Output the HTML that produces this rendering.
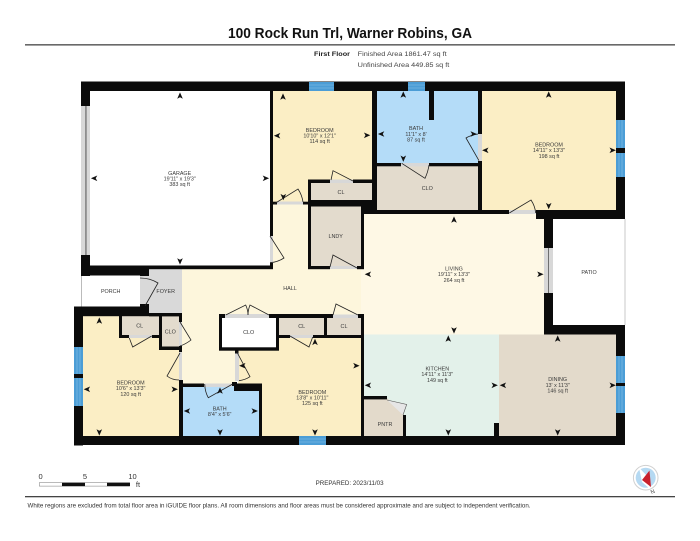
<!DOCTYPE html>
<html><head><meta charset="utf-8">
<style>
html,body{margin:0;padding:0;background:#fff}
svg{display:block}
text{font-family:"Liberation Sans",Arial,sans-serif}
.l text,.l{font-size:5.4px;fill:#3a3a3a;text-anchor:middle}
.d{fill:none;stroke:#222;stroke-width:.8}
</style></head><body>
<svg width="700" height="541" viewBox="0 0 700 541" xmlns="http://www.w3.org/2000/svg">
<defs><polygon id="a" points="0,-3.6 2.8,2.8 0,1.2 -2.8,2.8" fill="#111"/></defs>
<rect width="700" height="541" fill="#fff"/>

<!-- header -->
<text x="350" y="38" font-size="14.6" font-weight="bold" text-anchor="middle" fill="#111" textLength="244" lengthAdjust="spacingAndGlyphs">100 Rock Run Trl, Warner Robins, GA</text>
<rect x="25" y="44.2" width="650" height="1.3" fill="#444"/>
<text x="314" y="56" font-size="6.6" font-weight="bold" fill="#222" textLength="36" lengthAdjust="spacingAndGlyphs">First Floor</text>
<text x="357.7" y="56" font-size="6.6" fill="#444" textLength="89" lengthAdjust="spacingAndGlyphs">Finished Area 1861.47 sq ft</text>
<text x="357.7" y="67" font-size="6.6" fill="#444" textLength="91.6" lengthAdjust="spacingAndGlyphs">Unfinished Area 449.85 sq ft</text>

<!-- room fills -->
<g>
<rect x="182" y="269" width="182" height="46" fill="#fdf6dc"/>
<rect x="182" y="315" width="54" height="70" fill="#fdf6dc"/>
<rect x="273" y="202" width="36" height="68" fill="#fdf6dc"/>
<rect x="361" y="214" width="184" height="121" fill="#fef8e5"/>
<rect x="273" y="91" width="100" height="90" fill="#fbeec5"/>
<rect x="273" y="180" width="36" height="23" fill="#fbeec5"/>
<rect x="377" y="91" width="102" height="73" fill="#b4dcf8"/>
<rect x="478" y="91" width="139" height="120" fill="#fbeec5"/>
<rect x="376" y="165" width="103" height="46" fill="#e3dbcd"/>
<rect x="310" y="182" width="63" height="20" fill="#e3dbcd"/>
<rect x="310" y="206" width="52" height="61" fill="#e3dbcd"/>
<rect x="83" y="316" width="97" height="121" fill="#fbeec5"/>
<rect x="121" y="316" width="39" height="20" fill="#e3dbcd"/>
<rect x="161" y="316" width="19" height="31" fill="#e3dbcd"/>
<rect x="238" y="350" width="124" height="87" fill="#fbeec5"/>
<rect x="278" y="337" width="84" height="14" fill="#fbeec5"/>
<rect x="183" y="386" width="77" height="51" fill="#b4dcf8"/>
<rect x="278" y="317" width="47" height="19" fill="#e3dbcd"/>
<rect x="326" y="317" width="36" height="19" fill="#e3dbcd"/>
<rect x="364" y="334.5" width="135" height="102" fill="#e3f1ea"/>
<rect x="499" y="334.5" width="118" height="102" fill="#e3dacb"/>
<polygon points="364,398 387,398 404,415 404,437 364,437" fill="#e3dacb"/>
<rect x="149" y="269" width="33" height="45" fill="#d9d9d9"/>
<rect x="140" y="276" width="9" height="31" fill="#d9d9d9"/>
<rect x="220" y="315" width="58" height="34" fill="#fff"/>
</g>

<!-- white rooms outlines -->
<rect x="81" y="275" width="1" height="32" fill="#bbb"/>
<rect x="624.6" y="219" width=".8" height="106" fill="#bbb"/>

<!-- door openings -->
<g fill="#d8d8d8">
<rect x="277" y="201.5" width="26" height="3"/>
<rect x="270" y="236" width="3" height="27"/>
<rect x="330" y="179.5" width="23" height="3.5"/>
<rect x="330" y="266" width="27" height="3"/>
<rect x="401" y="163" width="28" height="3.5"/>
<rect x="478" y="134" width="4" height="27"/>
<rect x="509" y="210" width="27" height="4"/>
<rect x="544" y="248" width="9" height="45"/>
<rect x="179" y="322" width="3" height="24"/>
<rect x="179" y="352" width="3" height="28"/>
<rect x="129" y="335" width="23" height="3"/>
<rect x="225" y="314" width="44" height="4"/>
<rect x="290" y="335" width="23" height="3"/>
<rect x="333" y="314.5" width="25" height="3.5"/>
<rect x="204" y="383.5" width="28" height="3.5"/>
<rect x="235" y="353" width="4" height="28"/>
<rect x="81" y="106" width="9" height="149"/>
</g>
<rect x="85.5" y="106" width=".9" height="149" fill="#444"/>
<rect x="548" y="248" width=".8" height="45" fill="#555"/>
<polygon points="387,400 403,415 406.7,404.5" fill="#e6e6e6"/>

<!-- walls -->
<g fill="#0b0b0b">
<rect x="81" y="81.5" width="544" height="9.5"/>
<rect x="81" y="81.5" width="9" height="24.5"/>
<rect x="81" y="255" width="9" height="21"/>
<rect x="85" y="265.5" width="188" height="3.7"/>
<rect x="81" y="269" width="68" height="6.5"/>
<rect x="140" y="269" width="9" height="7"/>
<rect x="270" y="91" width="3" height="145"/>
<rect x="270" y="263" width="3" height="6"/>
<rect x="74" y="306.5" width="75" height="9.7"/>
<rect x="140" y="304" width="9" height="12"/>
<rect x="74" y="306.5" width="9" height="139"/>
<rect x="74" y="436" width="551" height="9"/>
<rect x="616" y="81.5" width="9" height="137.5"/>
<rect x="616" y="325" width="9" height="120"/>
<rect x="544" y="325" width="81" height="9.5"/>
<rect x="536" y="210" width="89" height="9"/>
<rect x="544" y="210" width="9" height="38"/>
<rect x="544" y="293" width="9" height="41"/>
<!-- top centre -->
<rect x="372" y="91" width="5" height="116"/>
<rect x="478" y="91" width="4" height="43"/>
<rect x="478" y="161" width="4" height="53"/>
<rect x="429" y="91" width="5" height="29"/>
<rect x="377" y="163" width="24" height="3.3"/>
<rect x="429" y="163" width="52" height="3.3"/>
<rect x="361" y="210" width="148" height="4"/>
<rect x="273" y="201.7" width="4" height="2.8"/>
<rect x="303" y="201.7" width="5" height="2.8"/>
<rect x="308" y="179.5" width="3" height="89.5"/>
<rect x="308" y="179.5" width="22" height="3.5"/>
<rect x="353" y="179.5" width="20" height="3.5"/>
<rect x="308" y="200" width="69" height="6.5"/>
<rect x="361" y="200" width="16" height="14"/>
<rect x="361" y="206" width="3" height="63"/>
<rect x="308" y="266" width="22" height="3.2"/>
<rect x="357" y="266" width="7" height="3.2"/>
<!-- foyer / closets lower left -->
<rect x="149" y="313" width="33" height="3.4"/>
<rect x="119" y="314" width="3" height="24"/>
<rect x="119" y="335" width="10" height="3"/>
<rect x="152" y="335" width="10" height="3"/>
<rect x="159" y="314" width="3" height="36"/>
<rect x="159" y="346.5" width="23" height="3.5"/>
<rect x="179" y="313" width="3" height="9"/>
<rect x="179" y="346" width="3" height="6"/>
<rect x="179" y="380" width="4" height="57"/>
<!-- lower bath -->
<rect x="179" y="383.5" width="25" height="3.5"/>
<rect x="234" y="383.5" width="28" height="7.5"/>
<rect x="232" y="382" width="5" height="4"/>
<rect x="259" y="383.5" width="3" height="53"/>
<!-- CLO box -->
<rect x="219" y="314" width="6" height="4"/>
<rect x="269" y="314" width="64" height="4"/>
<rect x="358" y="314" width="6" height="4"/>
<rect x="219" y="314" width="3" height="36.5"/>
<rect x="276" y="314" width="3" height="36.5"/>
<rect x="219" y="347.3" width="60" height="3.4"/>
<rect x="324" y="314" width="3" height="24"/>
<rect x="276" y="335" width="14" height="3"/>
<rect x="313" y="335" width="51" height="3"/>
<rect x="361" y="314" width="3" height="122"/>
<rect x="235" y="350" width="3.5" height="3.5"/>
<!-- kitchen -->
<rect x="494" y="423" width="5" height="13"/>
<rect x="364" y="396" width="23" height="3.4"/>
<rect x="403" y="415" width="3" height="21"/>
</g>

<!-- windows -->
<g fill="#4b9dd6">
<rect x="309" y="82" width="25" height="9"/>
<rect x="408" y="82" width="17" height="9"/>
<rect x="616" y="120" width="9" height="28"/>
<rect x="616" y="153" width="9" height="24"/>
<rect x="616" y="356" width="9" height="27"/>
<rect x="616" y="386" width="9" height="27"/>
<rect x="74" y="347" width="9" height="27"/>
<rect x="74" y="378" width="9" height="28"/>
<rect x="299" y="436" width="27" height="9"/>
</g>
<g stroke="#8cc3e6" stroke-width=".6" fill="none">
<path d="M309 85H334M309 88H334M408 85H425M408 88H425M299 439H326M299 442H326"/>
<path d="M619 120V148M622 120V148M619 153V177M622 153V177M619 356V383M622 356V383M619 386V413M622 386V413M77 347V374M80 347V374M77 378V406M80 378V406"/>
</g>

<!-- doors -->
<g class="d">
<path d="M274 204L298 189Q302 195 303 202"/>
<path d="M270 236L284 258Q278 262 270 262.7"/>
<path d="M331 180L333 170.7L353 181"/>
<path d="M330 267L333 255L357 268"/>
<path d="M401.7 163.3L425 178.3Q428 172 429 165"/>
<path d="M479 160.7L466 138Q471 135 478 134"/>
<path d="M509.3 213L531 200Q535 206 535.7 213"/>
<path d="M140 278Q150 278 158 283L145 306"/>
<path d="M180 322L191 340Q186 344 180 346"/>
<path d="M180 353L167 376Q172 380 179 380"/>
<path d="M129.3 338L132.7 347L151.7 336"/>
<path d="M225.7 315L245.7 305Q248 310 248 315"/>
<path d="M269 315L250 305Q248 310 248 315"/>
<path d="M290 336L309 347L312.7 337"/>
<path d="M333 315L336 304L358 315"/>
<path d="M232.7 384L208.3 397.7Q205 392 204.7 384"/>
<path d="M236.7 351.7L250 376.7Q245 380 239 380.7"/>
<path d="M387 400L406.7 404.5L403 415" stroke="#555" stroke-width=".6"/>
</g>

<!-- arrows -->
<g>
<use href="#a" transform="translate(180,96)"/><use href="#a" transform="translate(94.5,178.3) rotate(-90)"/><use href="#a" transform="translate(265.5,178.3) rotate(90)"/><use href="#a" transform="translate(180,261) rotate(180)"/>
<use href="#a" transform="translate(283,97)"/><use href="#a" transform="translate(277.5,135.7) rotate(-90)"/><use href="#a" transform="translate(366.7,135.3) rotate(90)"/><use href="#a" transform="translate(283.3,196.7) rotate(180)"/>
<use href="#a" transform="translate(403.3,95)"/><use href="#a" transform="translate(381.5,134) rotate(-90)"/><use href="#a" transform="translate(473.3,134) rotate(90)"/><use href="#a" transform="translate(403.3,158.3) rotate(180)"/>
<use href="#a" transform="translate(548.7,95)"/><use href="#a" transform="translate(485.7,150.3) rotate(-90)"/><use href="#a" transform="translate(612.3,150.3) rotate(90)"/><use href="#a" transform="translate(548.7,205.7) rotate(180)"/>
<use href="#a" transform="translate(454,220)"/><use href="#a" transform="translate(368.3,274.3) rotate(-90)"/><use href="#a" transform="translate(540,274.3) rotate(90)"/><use href="#a" transform="translate(454,330) rotate(180)"/>
<use href="#a" transform="translate(448.3,339)"/><use href="#a" transform="translate(368.3,385.3) rotate(-90)"/><use href="#a" transform="translate(494.3,385.3) rotate(90)"/><use href="#a" transform="translate(448.3,432) rotate(180)"/>
<use href="#a" transform="translate(557.7,339)"/><use href="#a" transform="translate(503.3,385.3) rotate(-90)"/><use href="#a" transform="translate(612.3,385.3) rotate(90)"/><use href="#a" transform="translate(557.7,432) rotate(180)"/>
<use href="#a" transform="translate(99.3,321)"/><use href="#a" transform="translate(87.3,389.3) rotate(-90)"/><use href="#a" transform="translate(174.3,389.3) rotate(90)"/><use href="#a" transform="translate(99.3,432) rotate(180)"/>
<use href="#a" transform="translate(220,391)"/><use href="#a" transform="translate(187.3,411) rotate(-90)"/><use href="#a" transform="translate(254.3,411) rotate(90)"/><use href="#a" transform="translate(220,432) rotate(180)"/>
<use href="#a" transform="translate(315,342.3)"/><use href="#a" transform="translate(242.7,365.7) rotate(-90)"/><use href="#a" transform="translate(356,365.7) rotate(90)"/><use href="#a" transform="translate(315,432) rotate(180)"/>
</g>

<!-- labels -->
<g class="l">
<text x="179.7" y="175">GARAGE</text><text x="179.7" y="180.6">19'11" x 19'3"</text><text x="179.7" y="186.2">383 sq ft</text>
<text x="319.7" y="132">BEDROOM</text><text x="319.7" y="137.6">10'10" x 12'1"</text><text x="319.7" y="143.2">114 sq ft</text>
<text x="341" y="194.2">CL</text>
<text x="335.7" y="237.9">LNDY</text>
<text x="416" y="130.2">BATH</text><text x="416" y="135.9">11'1" x 8'</text><text x="416" y="141.6">87 sq ft</text>
<text x="549" y="146.6">BEDROOM</text><text x="549" y="152.2">14'11" x 13'3"</text><text x="549" y="157.9">198 sq ft</text>
<text x="427.3" y="190.2">CLO</text>
<text x="454" y="270.5">LIVING</text><text x="454" y="276.2">19'11" x 13'3"</text><text x="454" y="281.9">264 sq ft</text>
<text x="589" y="273.9">PATIO</text>
<text x="110.7" y="292.9">PORCH</text>
<text x="165.7" y="292.9">FOYER</text>
<text x="290" y="290.2">HALL</text>
<text x="139.7" y="327.6">CL</text>
<text x="170.3" y="333.6">CLO</text>
<text x="248.7" y="334.2">CLO</text>
<text x="301.7" y="327.9">CL</text>
<text x="344" y="327.9">CL</text>
<text x="130.7" y="384.6">BEDROOM</text><text x="130.7" y="390.2">10'6" x 13'3"</text><text x="130.7" y="395.9">120 sq ft</text>
<text x="219.7" y="410.6">BATH</text><text x="219.7" y="416.2">8'4" x 5'6"</text>
<text x="312.3" y="393.9">BEDROOM</text><text x="312.3" y="399.6">13'8" x 10'11"</text><text x="312.3" y="405.2">125 sq ft</text>
<text x="437.3" y="370.6">KITCHEN</text><text x="437.3" y="376.2">14'11" x 11'3"</text><text x="437.3" y="381.9">149 sq ft</text>
<text x="557.7" y="381.2">DINING</text><text x="557.7" y="386.9">13' x 11'3"</text><text x="557.7" y="392.6">146 sq ft</text>
<text x="385" y="425.9">PNTR</text>
</g>

<!-- scale -->
<rect x="39.3" y="482.7" width="90.2" height="3.4" fill="#fff" stroke="#777" stroke-width=".5"/>
<rect x="62" y="482.7" width="23" height="3.4" fill="#111"/>
<rect x="107" y="482.7" width="23" height="3.4" fill="#111"/>
<g font-size="7.5" fill="#333" text-anchor="middle">
<text x="40.6" y="479">0</text><text x="85" y="479">5</text><text x="132.5" y="479">10</text><text x="138" y="487">ft</text>
</g>
<text x="349.6" y="485" font-size="6.8" fill="#333" text-anchor="middle" textLength="68" lengthAdjust="spacingAndGlyphs">PREPARED: 2023/11/03</text>

<!-- compass -->
<circle cx="645.7" cy="477.7" r="12.3" fill="#fff" stroke="#d0d0d0" stroke-width="1"/>
<circle cx="645.7" cy="477.7" r="10" fill="#b5d9f2"/>
<polygon points="639,467.5 648,477 650,489 642,482" fill="#fff"/>
<polygon points="649.5,470.5 651,487 642,480" fill="#c8202c"/>
<text x="652.7" y="493.5" font-size="5.5" fill="#333" text-anchor="middle" transform="rotate(-25 652.7 491.7)">N</text>

<!-- footer -->
<rect x="25" y="496" width="650" height="1.3" fill="#444"/>
<text x="27.5" y="507.6" font-size="6.3" fill="#333" textLength="503" lengthAdjust="spacingAndGlyphs">White regions are excluded from total floor area in iGUIDE floor plans. All room dimensions and floor areas must be considered approximate and are subject to independent verification.</text>
</svg>
</body></html>
